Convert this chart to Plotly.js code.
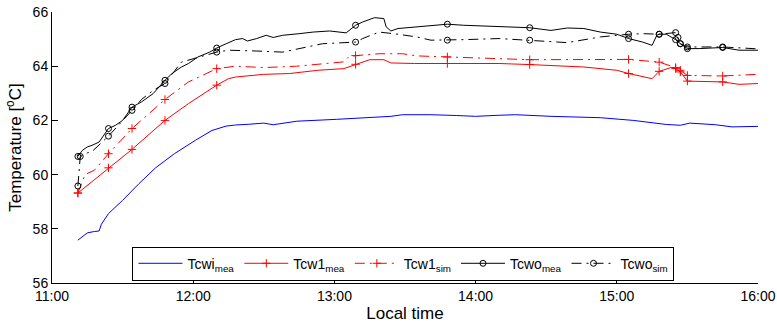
<!DOCTYPE html>
<html>
<head>
<meta charset="utf-8">
<script src="https://cdn.plot.ly/plotly-3.0.1.min.js"></script>
<style>html,body{margin:0;padding:0;background:#fff;}#chart{width:777px;height:325px;}</style>
</head>
<body>
<div id="chart"></div>
<script>
// ---- data (local time, temperature in °C) ----
const tcwiMeaT = ['11:11','11:15','11:18','11:20','11:21','11:24','11:30','11:37','11:44','11:52','12:01','12:08','12:14','12:18','12:24','12:30','12:34','12:44','13:01','13:12','13:24','13:29','13:41','13:52','14:00','14:10','14:17','14:32','14:53','15:07','15:21','15:27','15:31','15:42','15:49','16:00'];
const tcwiMeaV = [57.58,57.85,57.90,57.92,58.17,58.56,59.05,59.67,60.25,60.77,61.27,61.63,61.79,61.83,61.86,61.90,61.84,61.97,62.04,62.09,62.15,62.21,62.21,62.18,62.15,62.19,62.21,62.15,62.10,62.00,61.85,61.82,61.90,61.84,61.76,61.78];

const tcw1MeaT = ['11:11','11:24','11:34','11:48','11:58','12:10','12:15','12:18','12:30','12:41','12:53','13:04','13:09','13:15','13:21','13:24','13:34','13:48','14:10','14:23','14:46','15:00','15:05','15:15','15:18','15:23','15:25','15:27','15:30','15:45','15:52','16:00'];
const tcw1MeaV = [59.32,60.25,60.93,62.00,62.62,63.30,63.54,63.60,63.70,63.73,63.85,63.91,64.07,64.24,64.24,64.12,64.10,64.10,64.10,64.06,63.97,63.85,63.73,63.54,63.81,63.95,63.91,63.79,63.45,63.42,63.33,63.36];
const tcw1MeaMarks = ['11:11','11:24','11:34','11:48','12:10','13:09','13:48','14:23','15:05','15:18','15:25','15:27','15:30','15:45'];

const tcw1SimT = ['11:11','11:14','11:18','11:24','11:34','11:48','11:58','12:10','12:18','12:30','12:44','12:55','13:04','13:06','13:09','13:19','13:29','13:35','13:48','14:10','14:23','15:05','15:18','15:25','15:27','15:30','15:45','16:00'];
const tcw1SimV = [59.32,60.00,60.16,60.77,61.70,62.77,63.42,63.91,64.00,63.95,64.00,64.10,64.16,64.34,64.39,64.46,64.46,64.38,64.34,64.28,64.24,64.25,64.15,63.95,63.85,63.66,63.64,63.70];
const tcw1SimMarks = ['11:11','11:24','11:34','11:48','12:10','13:09','13:48','14:23','15:05','15:18','15:25','15:27','15:30','15:45'];

const tcwoMeaT = ['11:11','11:13','11:15','11:17','11:20','11:24','11:27','11:30','11:34','11:38','11:43','11:48','11:51','11:55','11:58','12:02','12:07','12:10','12:14','12:18','12:21','12:23','12:27','12:31','12:34','12:38','12:45','12:51','12:58','13:05','13:09','13:12','13:17','13:21','13:22','13:24','13:27','13:35','13:41','13:48','13:55','14:10','14:23','14:32','14:39','14:46','14:53','15:00','15:05','15:11','15:15','15:17','15:18','15:21','15:25','15:27','15:30','15:35','15:45','15:52','16:00'];
const tcwoMeaV = [60.67,60.90,61.02,61.08,61.20,61.70,61.82,62.00,62.49,62.68,62.99,63.48,63.73,63.97,64.10,64.34,64.52,64.67,64.83,64.98,65.02,64.93,65.02,65.14,65.06,65.14,65.20,65.26,65.30,65.23,65.51,65.63,65.79,65.76,65.45,65.30,65.39,65.45,65.51,65.55,65.51,65.45,65.42,65.32,65.41,65.39,65.26,65.18,65.02,64.89,64.77,65.14,65.18,65.18,64.98,64.83,64.65,64.65,64.69,64.59,64.59];
const tcwoMeaMarks = ['11:11','11:24','11:34','11:48','12:10','13:09','13:48','14:23','15:05','15:18','15:25','15:27','15:30','15:45'];

const tcwoSimT = ['11:11','11:12','11:15','11:17','11:24','11:27','11:34','11:38','11:43','11:48','11:55','12:10','12:15','12:27','12:38','12:55','13:02','13:09','13:12','13:19','13:27','13:35','13:41','13:48','13:55','14:10','14:23','14:39','14:53','15:05','15:11','15:18','15:25','15:26','15:27','15:30','15:45','16:00'];
const tcwoSimV = [59.58,60.67,60.80,60.85,61.42,61.70,62.37,62.77,63.11,63.36,64.15,64.52,64.59,64.56,64.52,64.83,64.86,64.89,65.02,65.26,65.18,65.08,64.96,64.96,64.98,65.02,64.96,64.87,65.08,65.18,65.20,65.18,65.24,65.06,64.83,64.71,64.71,64.64];
const tcwoSimMarks = ['11:11','11:12','11:24','11:34','11:48','12:10','13:09','13:48','14:23','15:05','15:18','15:25','15:26','15:27','15:30','15:45'];

const seriesNames = ['Tcwi<sub>mea</sub>','Tcw1<sub>mea</sub>','Tcw1<sub>sim</sub>','Tcwo<sub>mea</sub>','Tcwo<sub>sim</sub>'];
const xTickVals = ['11:00','12:00','13:00','14:00','15:00','16:00'];

// ---- build ----
const day = '2024-01-01 ';
const toX = t => day + t;
const dashDot = '10px,5px,2px,5px';

function lineTrace(T, V, color, dash) {
  return {x: T.map(toX), y: V, mode: 'lines', type: 'scatter',
    line: {color: color, width: 1, dash: dash}, showlegend: false, hoverinfo: 'skip'};
}
function markTrace(T, V, marks, name, color, dash, symbol, size) {
  const x = [], y = [];
  marks.forEach(m => { const i = T.indexOf(m); x.push(toX(m), toX(m)); y.push(V[i], null); });
  return {x: x, y: y, mode: 'lines+markers', type: 'scatter', name: name, connectgaps: false,
    line: {color: color, width: 1, dash: dash},
    marker: {symbol: symbol, size: size, color: color, line: {color: color, width: 1}},
    hoverinfo: 'skip'};
}

const traces = [
  {x: tcwiMeaT.map(toX), y: tcwiMeaV, mode: 'lines', type: 'scatter', name: seriesNames[0],
   line: {color: '#0000ff', width: 1}},
  lineTrace(tcw1MeaT, tcw1MeaV, '#ff0000', 'solid'),
  markTrace(tcw1MeaT, tcw1MeaV, tcw1MeaMarks, seriesNames[1], '#ff0000', 'solid', 'cross-thin-open', 6),
  lineTrace(tcw1SimT, tcw1SimV, '#ff0000', dashDot),
  markTrace(tcw1SimT, tcw1SimV, tcw1SimMarks, seriesNames[2], '#ff0000', dashDot, 'cross-thin-open', 6),
  lineTrace(tcwoMeaT, tcwoMeaV, '#000000', 'solid'),
  markTrace(tcwoMeaT, tcwoMeaV, tcwoMeaMarks, seriesNames[3], '#000000', 'solid', 'circle-open', 6),
  lineTrace(tcwoSimT, tcwoSimV, '#000000', dashDot),
  markTrace(tcwoSimT, tcwoSimV, tcwoSimMarks, seriesNames[4], '#000000', dashDot, 'circle-open', 6)
];

const font = {family: '"Liberation Sans", Arial, Helvetica, sans-serif', color: '#000'};
const layout = {
  width: 777, height: 325,
  margin: {l: 52, r: 19, t: 12, b: 42},
  paper_bgcolor: '#fff', plot_bgcolor: '#fff',
  font: Object.assign({size: 14}, font),
  showlegend: true,
  legend: {orientation: 'h', x: 0.114, y: 0.134, xanchor: 'left', yanchor: 'top',
    bgcolor: '#fff', bordercolor: '#000', borderwidth: 1, font: Object.assign({size: 14}, font),
    itemwidth: 44, tracegroupgap: 0},
  xaxis: {type: 'date', range: [toX('11:00'), toX('16:00')], automargin: false,
    tickvals: xTickVals.map(toX), ticktext: xTickVals,
    showline: true, linecolor: '#000', linewidth: 1, mirror: false,
    ticks: 'inside', ticklen: 6, tickcolor: '#000', showgrid: false, zeroline: false,
    tickfont: Object.assign({size: 14}, font),
    title: {text: 'Local time', font: Object.assign({size: 17}, font), standoff: 4}},
  yaxis: {range: [56, 66], dtick: 2, tick0: 56, automargin: false,
    showline: true, linecolor: '#000', linewidth: 1, mirror: false,
    ticks: 'inside', ticklen: 6, tickcolor: '#000', showgrid: false, zeroline: false,
    tickfont: Object.assign({size: 14}, font),
    title: {text: 'Temperature [<sup>o</sup>C]', font: Object.assign({size: 17}, font), standoff: 6}}
};

Plotly.newPlot('chart', traces, layout, {staticPlot: true, displayModeBar: false});
</script>
</body>
</html>
